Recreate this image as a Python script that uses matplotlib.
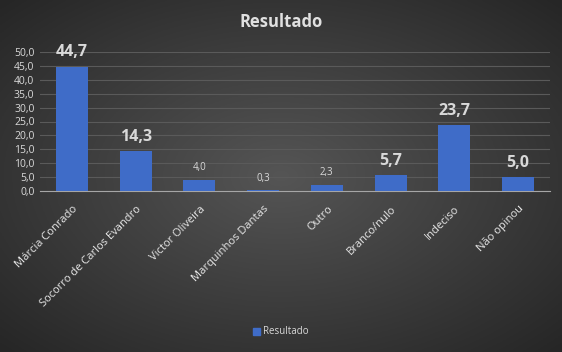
import numpy as np
import matplotlib.pyplot as plt
from matplotlib.patches import Patch

plt.rcParams['font.family'] = ['Open Sans', 'DejaVu Sans']

# Data
categorias = ['Márcia Conrado', 'Socorro de Carlos Evandro', 'Victor Oliveira',
              'Marquinhos Dantas', 'Outro', 'Branco/nulo', 'Indeciso', 'Não opinou']
valores = [44.7, 14.3, 4.0, 0.3, 2.3, 5.7, 23.7, 5.0]
destaque = [True, True, False, False, False, True, True, True]

fig = plt.figure(figsize=(5.62, 3.52), dpi=100)

# radial dark background: centre ~#555, edges ~#262626
bg = fig.add_axes([0, 0, 1, 1], zorder=-10)
yy, xx = np.mgrid[-1:1:200j, -1:1:300j]
r = np.clip(np.sqrt(xx ** 2 + yy ** 2) / 1.41, 0, 1)
shade = 0x55 / 255 + (0x26 / 255 - 0x55 / 255) * r
img = np.dstack([shade, shade, shade])
bg.imshow(img, aspect='auto', extent=[0, 1, 0, 1])
bg.set_axis_off()

ax = fig.add_axes([40 / 562, 1 - 191 / 352, 510 / 562, 139 / 352])
ax.set_facecolor('none')
x = np.arange(len(categorias))
ax.bar(x, valores, width=0.5, color='#3f6cc8', zorder=3)

ax.set_xlim(-0.5, len(categorias) - 0.5)
ax.set_ylim(0, 50)
ax.set_yticks(np.arange(0, 51, 5))
ax.set_yticklabels([f'{v:.1f}'.replace('.', ',') for v in np.arange(0, 51, 5)],
                   color='#d9d9d9', fontsize=7.5)
ax.set_xticks(x)
ax.set_xticklabels(categorias, rotation=45, ha='right', rotation_mode='anchor',
                   color='#e8e8e8', fontsize=8)
ax.tick_params(axis='x', length=0, pad=9)
ax.tick_params(axis='y', length=0, pad=4)
ax.grid(axis='y', color='#5a5a5a', linewidth=0.8, zorder=0)
for s in ['top', 'right', 'left']:
    ax.spines[s].set_visible(False)
ax.spines['bottom'].set_color('#a6a6a6')

for xi, v, big in zip(x, valores, destaque):
    txt = f'{v:.1f}'.replace('.', ',')
    if big:
        ax.text(xi, v + 2.3, txt, ha='center', va='bottom', color='#d9d9d9',
                fontsize=11.5, fontweight='bold')
    else:
        ax.text(xi, v + 2.3, txt, ha='center', va='bottom', color='#d9d9d9',
                fontsize=7)

fig.text(0.5, 1 - 22 / 352, 'Resultado', ha='center', va='center',
         color='#e0e0e0', fontsize=12, fontweight='bold')

fig.legend(handles=[Patch(color='#3f6cc8', label='Resultado')], loc='center',
           bbox_to_anchor=(0.5, 1 - 332 / 352), frameon=False, fontsize=7,
           labelcolor='#d9d9d9', handlelength=0.7, handleheight=0.7,
           handletextpad=0.3)

fig.savefig('out.png', dpi=100)
